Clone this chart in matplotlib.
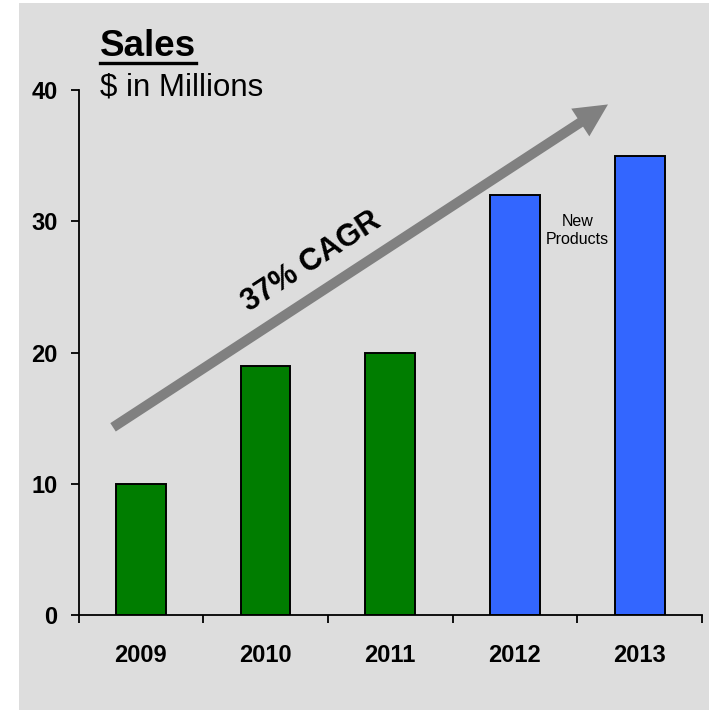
import matplotlib
matplotlib.use('Agg')
import matplotlib.pyplot as plt
import matplotlib.patches as mpatches
from matplotlib.lines import Line2D
import numpy as np

plt.rcParams['font.family'] = ['Liberation Sans', 'DejaVu Sans']

years = ['2009', '2010', '2011', '2012', '2013']
sales = [10, 19, 20, 32, 35]
bar_colors = ['#007D00', '#007D00', '#007D00', '#3366FF', '#3366FF']
y_ticks = [0, 10, 20, 30, 40]

fig = plt.figure(figsize=(7.09, 7.10), dpi=100)
fig.patch.set_facecolor('white')

# grey slide panel behind the chart
panel = mpatches.Rectangle((19 / 709, 0), 1 - 19 / 709, 1 - 3 / 710,
                           transform=fig.transFigure, facecolor='#DDDDDD',
                           edgecolor='none', zorder=-5)
fig.patches.append(panel)

ax = fig.add_axes([78.5 / 709, 95 / 710, (702 - 78.5) / 709, 525 / 710])
ax.set_facecolor('none')

x = np.arange(len(years))
ax.bar(x, sales, width=0.4, color=bar_colors, edgecolor='black', linewidth=1.4, zorder=3)

ax.set_xlim(-0.5, len(years) - 0.5)
ax.set_ylim(0, 40)

for side in ['top', 'right']:
    ax.spines[side].set_visible(False)
for side in ['left', 'bottom']:
    ax.spines[side].set_linewidth(1.3)

ax.set_yticks(y_ticks)
ax.set_yticklabels([str(v) for v in y_ticks], fontsize=17, fontweight='bold')
ax.tick_params(axis='y', direction='out', length=6, width=1.3, pad=9)

# labels under the category centres, tick marks on the category borders
ax.set_xticks(x)
ax.set_xticklabels(years, fontsize=17, fontweight='bold')
ax.set_xticks(np.arange(len(years) + 1) - 0.5, minor=True)
ax.tick_params(axis='x', which='major', length=0, pad=21)
ax.tick_params(axis='x', which='minor', direction='out', length=6, width=1.3)

# growth arrow
ax.annotate('', xy=(3.746, 38.9), xytext=(-0.223, 14.3),
            arrowprops=dict(arrowstyle='simple,head_length=23.8,head_width=23.8,tail_width=7.2',
                            mutation_scale=1, color='#808080', lw=0,
                            shrinkA=0, shrinkB=0), zorder=2)
ax.text(1.37, 26.9, '37% CAGR', fontsize=22, fontweight='bold', rotation=33,
        rotation_mode='anchor', ha='center', va='center', zorder=4)

ax.text(3.5, 29.3, 'New\nProducts', fontsize=11.5, ha='center', va='center',
        linespacing=1.25, zorder=4)

title = fig.text(100 / 709, (710 - 56) / 710, 'Sales', fontsize=26.5,
                 fontweight='bold', ha='left', va='baseline')
fig.text(100 / 709, (710 - 96) / 710, '$ in Millions', fontsize=22.5,
         ha='left', va='baseline')

# underline the title
fig.canvas.draw()
bb = title.get_window_extent()
uy = (710 - 62.5) / 710
fig.lines.append(Line2D([bb.x0 / 709, bb.x1 / 709], [uy, uy], transform=fig.transFigure,
                        color='black', linewidth=2.4))

fig.savefig('out.png', dpi=100)
